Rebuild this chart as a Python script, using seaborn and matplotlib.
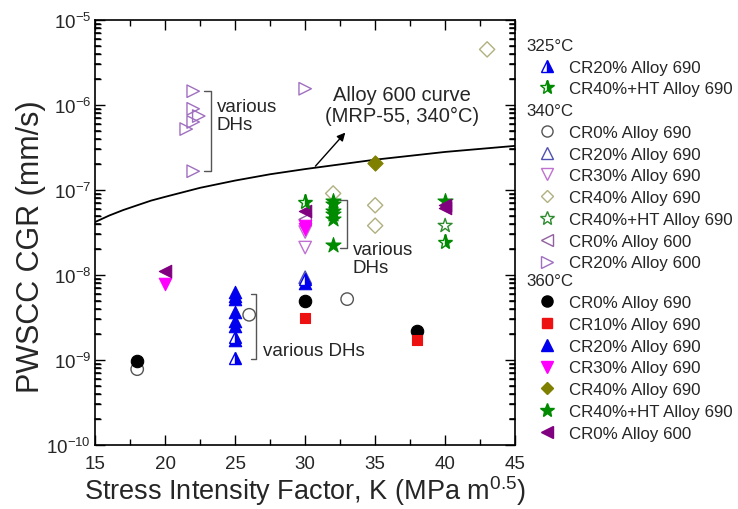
import matplotlib
matplotlib.use("Agg")
import matplotlib.pyplot as plt
from matplotlib.lines import Line2D
from matplotlib.ticker import FixedLocator, NullFormatter
from matplotlib.transforms import blended_transform_factory
import seaborn as sns

# K (MPa m^0.5) and CGR (mm/s)

# 325 C (half filled markers)
k_325_cr20_690 = [25, 25, 30]
v_325_cr20_690 = [1.85e-9, 1.05e-9, 9.0e-9]
k_325_cr40ht_690 = [30, 40]
v_325_cr40ht_690 = [7.2e-8, 2.45e-8]

# 340 C (open markers)
k_340_cr0_690 = [18, 26, 33]
v_340_cr0_690 = [7.8e-10, 3.4e-9, 5.2e-9]
k_340_cr20_690 = [30]
v_340_cr20_690 = [9.4e-9]
k_340_cr30_690 = [30, 30]
v_340_cr30_690 = [3.2e-8, 2.1e-8]
k_340_cr40_690 = [32, 35, 35, 43]
v_340_cr40_690 = [9.1e-8, 6.6e-8, 3.8e-8, 4.5e-6]
k_340_cr40ht_690 = [40]
v_340_cr40ht_690 = [3.8e-8]
k_340_cr0_600 = [30]
v_340_cr0_600 = [4.5e-8]
k_340_cr20_600 = [22, 22, 22.4, 22, 21.5, 22, 30]
v_340_cr20_600 = [1.45e-6, 9.0e-7, 7.4e-7, 6.3e-7, 5.2e-7, 1.66e-7, 1.55e-6]

# 360 C (filled markers)
k_360_cr0_690 = [18, 30, 38]
v_360_cr0_690 = [9.7e-10, 4.9e-9, 2.2e-9]
k_360_cr10_690 = [30, 38]
v_360_cr10_690 = [3.1e-9, 1.72e-9]
k_360_cr20_690 = [25, 25, 25, 25, 25, 25, 25, 30]
v_360_cr20_690 = [6.3e-9, 5.7e-9, 5.2e-9, 3.65e-9, 2.9e-9, 2.5e-9, 1.7e-9, 8.0e-9]
k_360_cr30_690 = [20, 30, 30]
v_360_cr30_690 = [7.8e-9, 3.8e-8, 3.5e-8]
k_360_cr40_690 = [35]
v_360_cr40_690 = [2.1e-7]
k_360_cr40ht_690 = [32, 32, 32, 32, 32, 32, 40]
v_360_cr40ht_690 = [7.5e-8, 6.8e-8, 5.7e-8, 5.2e-8, 4.6e-8, 2.25e-8, 7.5e-8]
k_360_cr0_600 = [20, 30, 40, 40]
v_360_cr0_600 = [1.1e-8, 5.6e-8, 6.6e-8, 6.2e-8]

# Alloy 600 MRP-55 curve
curve_k = [15, 16, 17, 18, 19, 20, 22.5, 25, 27.5, 30, 35, 40, 45]
curve_v = [4.2e-8, 5.0e-8, 5.8e-8, 6.6e-8, 7.5e-8, 8.3e-8, 1.06e-7, 1.29e-7,
           1.53e-7, 1.76e-7, 2.27e-7, 2.8e-7, 3.3e-7]

BLUE = "#0000ee"
GREEN = "#008a00"

sns.set_theme(style="ticks")
plt.rcParams["font.family"] = ["Liberation Sans", "DejaVu Sans"]
plt.rcParams["mathtext.fontset"] = "custom"
plt.rcParams["mathtext.rm"] = "Liberation Sans"
plt.rcParams["mathtext.it"] = "Liberation Sans:italic"

fig = plt.figure(figsize=(7.38, 5.10), dpi=100)
ax = fig.add_axes([0.129, 0.1255, 0.569, 0.8335])
ax.set_yscale("log")

MS = 9


def open_pts(k, v, marker, color, s=75):
    sns.scatterplot(x=k, y=v, marker=marker, s=s, color=color, facecolor="none",
                    edgecolor=color, linewidth=1.0, ax=ax, zorder=3)


def filled_pts(k, v, marker, color, s=75):
    sns.scatterplot(x=k, y=v, marker=marker, s=s, color=color, edgecolor=color,
                    linewidth=0.8, ax=ax, zorder=4)


def half_pts(k, v, marker, color, ms=MS):
    ax.plot(k, v, ls="none", marker=marker, ms=ms, color=color, mec=color,
            mfc=color, fillstyle="right", markerfacecoloralt="white", mew=1.0, zorder=5)


sns.lineplot(x=curve_k, y=curve_v, color="black", lw=1.3, ax=ax, zorder=2)

# 340 open
styles_340 = [
    ("CR0% Alloy 690", k_340_cr0_690, v_340_cr0_690, "o", "#555555", 80),
    ("CR20% Alloy 690", k_340_cr20_690, v_340_cr20_690, "^", "#5050b0", 80),
    ("CR30% Alloy 690", k_340_cr30_690, v_340_cr30_690, "v", "#c070d0", 80),
    ("CR40% Alloy 690", k_340_cr40_690, v_340_cr40_690, "D", "#b0b080", 60),
    ("CR40%+HT Alloy 690", k_340_cr40ht_690, v_340_cr40ht_690, "*", "#2e8b2e", 110),
    ("CR0% Alloy 600", k_340_cr0_600, v_340_cr0_600, "<", "#9060a0", 80),
    ("CR20% Alloy 600", k_340_cr20_600, v_340_cr20_600, ">", "#a070c0", 80),
]
for lab, k, v, m, c, s in styles_340:
    open_pts(k, v, m, c, s)

styles_360 = [
    ("CR0% Alloy 690", k_360_cr0_690, v_360_cr0_690, "o", "black", 80),
    ("CR10% Alloy 690", k_360_cr10_690, v_360_cr10_690, "s", "#ee1111", 60),
    ("CR20% Alloy 690", k_360_cr20_690, v_360_cr20_690, "^", BLUE, 80),
    ("CR30% Alloy 690", k_360_cr30_690, v_360_cr30_690, "v", "#ff00ff", 80),
    ("CR40% Alloy 690", k_360_cr40_690, v_360_cr40_690, "D", "#808000", 60),
    ("CR40%+HT Alloy 690", k_360_cr40ht_690, v_360_cr40ht_690, "*", GREEN, 130),
    ("CR0% Alloy 600", k_360_cr0_600, v_360_cr0_600, "<", "#800080", 80),
]
for lab, k, v, m, c, s in styles_360:
    filled_pts(k, v, m, c, s)

half_pts(k_325_cr20_690, v_325_cr20_690, "^", BLUE)
half_pts(k_325_cr40ht_690, v_325_cr40ht_690, "*", GREEN, ms=11)

# annotations
FS = 13.5
ax.annotate("", xy=(33.0, 5.0e-7), xytext=(30.6, 1.8e-7),
            arrowprops=dict(arrowstyle="-|>", color="black", lw=1.0, mutation_scale=12))
ax.text(36.9, 1.0e-6, "Alloy 600 curve\n(MRP-55, 340°C)", ha="center", va="center",
        fontsize=14.5, linespacing=1.1)


def bracket(x, x_tick, y_top, y_bot):
    ax.plot([x_tick, x, x, x_tick], [y_top, y_top, y_bot, y_bot], color="#555555",
            lw=1.0, zorder=1)


bracket(23.3, 22.8, 1.45e-6, 1.66e-7)
ax.text(23.7, 7.5e-7, "various\nDHs", ha="left", va="center", fontsize=FS, linespacing=1.1)
bracket(33.0, 32.5, 7.7e-8, 2.1e-8)
ax.text(33.4, 1.55e-8, "various\nDHs", ha="left", va="center", fontsize=FS, linespacing=1.1)
bracket(26.5, 26.1, 5.97e-9, 1.03e-9)
ax.text(27.0, 1.3e-9, "various DHs", ha="left", va="center", fontsize=FS)

ax.set_xlim(15, 45)
ax.set_ylim(1e-10, 1e-5)
ax.set_xticks([15, 20, 25, 30, 35, 40, 45])
ax.set_xticks([17.5, 22.5, 27.5, 32.5, 37.5, 42.5], minor=True)
ax.set_yticks([1e-10, 1e-9, 1e-8, 1e-7, 1e-6, 1e-5])
ax.tick_params(which="both", direction="in", top=True, right=True, labelsize=13.5,
               width=1.0, color="black")
ax.tick_params(which="major", length=7)
ax.tick_params(which="minor", length=4)
ax.tick_params(axis="x", which="major", pad=7)
ax.tick_params(axis="y", which="major", pad=3)
for sp in ax.spines.values():
    sp.set_linewidth(1.2)
    sp.set_color("black")
ax.set_xlabel("Stress Intensity Factor, K (MPa m$^{0.5}$)", fontsize=19.5, labelpad=1)
ax.set_ylabel("PWSCC CGR (mm/s)", fontsize=22)
ax.yaxis.set_label_coords(-0.118, 0.47)

# y minor ticks at 2..9 of each decade; also drawn as short strokes on both spines
minor_y = [m * 10.0 ** e for e in range(-10, -5) for m in range(2, 10)]
ax.yaxis.set_minor_locator(FixedLocator(minor_y))
ax.yaxis.set_minor_formatter(NullFormatter())
trans = blended_transform_factory(ax.transAxes, ax.transData)
tick_w = 5.0 / (0.569 * 738)
for yv in minor_y:
    ax.plot([0, tick_w], [yv, yv], color="black", lw=1.2, transform=trans,
            clip_on=False, zorder=6)
    ax.plot([1 - tick_w, 1], [yv, yv], color="black", lw=1.2, transform=trans,
            clip_on=False, zorder=6)

# legends, one block per temperature


def leg_handles(items, kind):
    hs = []
    for lab, k, v, m, c, s in items:
        msz = 8 if m not in ("*", "D", "s") else (10 if m == "*" else 6.5)
        face = "none" if kind == "open" else c
        hs.append(Line2D([], [], ls="none", marker=m, ms=msz, mec=c, mfc=face, label=lab))
    return hs


h325 = [
    Line2D([], [], ls="none", marker="^", ms=8, color=BLUE, fillstyle="right",
           markerfacecoloralt="white", label="CR20% Alloy 690"),
    Line2D([], [], ls="none", marker="*", ms=10, color=GREEN, fillstyle="right",
           markerfacecoloralt="white", label="CR40%+HT Alloy 690"),
]
common = dict(loc="upper left", frameon=False, fontsize=12.2, title_fontsize=12.2,
              alignment="left", labelspacing=0.4, handlelength=2.4, handletextpad=0.1,
              borderpad=0.0, borderaxespad=0.0)
fig.legend(handles=h325, title="325°C", bbox_to_anchor=(0.713, 0.924), **common)
fig.legend(handles=leg_handles(styles_340, "open"), title="340°C",
           bbox_to_anchor=(0.713, 0.796), **common)
fig.legend(handles=leg_handles(styles_360, "filled"), title="360°C",
           bbox_to_anchor=(0.713, 0.462), **common)

fig.savefig("out.png", dpi=100)
